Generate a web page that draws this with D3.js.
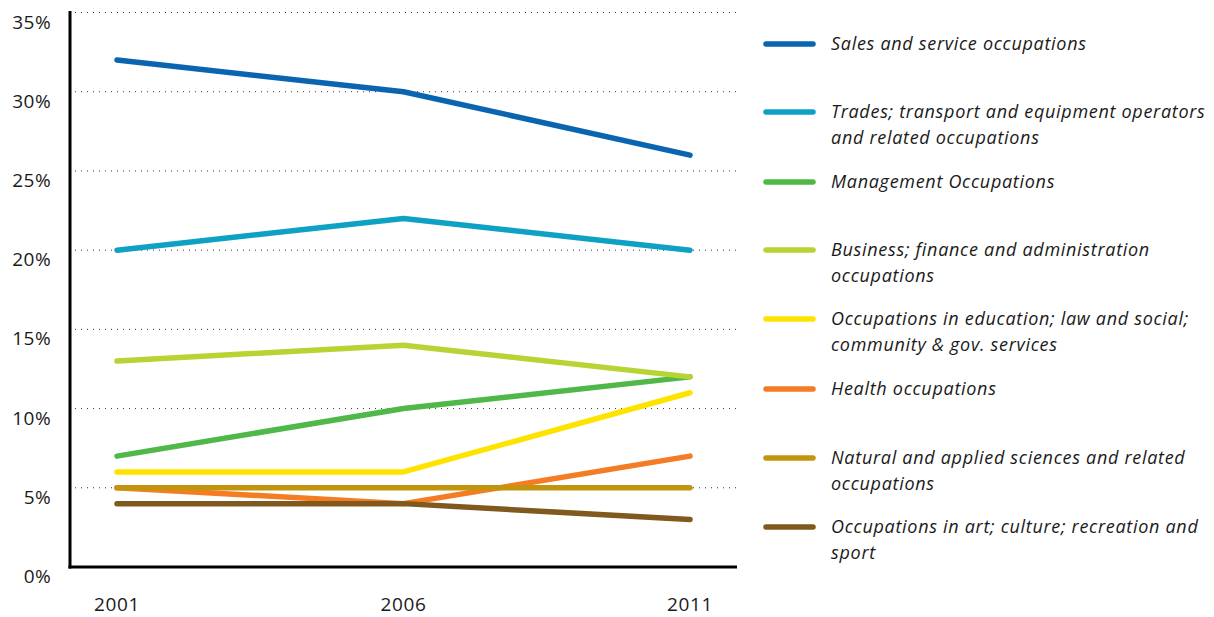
<!DOCTYPE html>
<html>
<head>
<meta charset="utf-8">
<script src="https://d3js.org/d3.v7.min.js"></script>
<style>
  body { margin: 0; background: #fff; }
  text { font-family: "Open Sans", sans-serif; fill: #1a1a1a; }
</style>
</head>
<body>
<div id="chart"></div>
<script>
// data
var years = ["2001", "2006", "2011"];
var yTicks = [0, 5, 10, 15, 20, 25, 30, 35];

var seriesNames = [
  ["Sales and service occupations"],
  ["Trades; transport and equipment operators", "and related occupations"],
  ["Management Occupations"],
  ["Business; finance and administration", "occupations"],
  ["Occupations in education; law and social;", "community & gov. services"],
  ["Health occupations"],
  ["Natural and applied sciences and related", "occupations"],
  ["Occupations in art; culture; recreation and", "sport"]
];
var seriesColors = ["#0a65b0", "#0fa1c4", "#4fb848", "#b8d434", "#ffe300", "#f47c24", "#c3950e", "#7f591d"];

var sales = [32, 30, 26];
var trades = [20, 22, 20];
var management = [7, 10, 12];
var business = [13, 14, 12];
var education = [6, 6, 11];
var health = [5, 4, 7];
var natural = [5, 5, 5];
var art = [4, 4, 3];
var seriesValues = [sales, trades, management, business, education, health, natural, art];

var width = 1214, height = 617;
var svg = d3.select("#chart").append("svg")
    .attr("width", width)
    .attr("height", height);

var x = d3.scalePoint()
    .domain(years)
    .range([117, 690]);

var y = d3.scaleLinear()
    .domain([0, 35])
    .range([567, 12.5]);

// dotted gridlines
svg.append("g")
  .selectAll("line")
  .data(yTicks.filter(function(d) { return d > 0; }))
  .enter().append("line")
    .attr("x1", 75).attr("x2", 737)
    .attr("y1", function(d) { return y(d); })
    .attr("y2", function(d) { return y(d); })
    .attr("stroke", "#333")
    .attr("stroke-width", 1)
    .attr("stroke-dasharray", "1,5");

// y tick labels
svg.append("g")
  .selectAll("text")
  .data(yTicks)
  .enter().append("text")
    .attr("x", 51)
    .attr("y", function(d) { return y(d) + 16; })
    .attr("text-anchor", "end")
    .style("font-size", "19px")
    .style("letter-spacing", "0.4px")
    .text(function(d) { return d + "%"; });

// x labels
svg.append("g")
  .selectAll("text")
  .data(years)
  .enter().append("text")
    .attr("x", function(d) { return x(d); })
    .attr("y", 611)
    .attr("text-anchor", "middle")
    .style("font-size", "19px")
    .style("letter-spacing", "0.6px")
    .text(function(d) { return d; });

// axes lines
svg.append("line")
    .attr("x1", 70).attr("x2", 70)
    .attr("y1", 11).attr("y2", 568.5)
    .attr("stroke", "#000").attr("stroke-width", 3);
svg.append("line")
    .attr("x1", 68.5).attr("x2", 737)
    .attr("y1", 567).attr("y2", 567)
    .attr("stroke", "#000").attr("stroke-width", 3);

var line = d3.line()
    .x(function(d, i) { return x(years[i]); })
    .y(function(d) { return y(d); });

svg.append("g")
  .selectAll("path")
  .data(seriesValues)
  .enter().append("path")
    .attr("d", line)
    .attr("fill", "none")
    .attr("stroke", function(d, i) { return seriesColors[i]; })
    .attr("stroke-width", 5.5)
    .attr("stroke-linecap", "round")
    .attr("stroke-linejoin", "round");

// legend
var legendY = [44, 112, 182, 250, 319, 389, 458, 527];
var item = svg.append("g")
  .selectAll("g")
  .data(seriesNames)
  .enter().append("g")
    .attr("transform", function(d, i) { return "translate(0," + legendY[i] + ")"; });

item.append("line")
    .attr("x1", 766).attr("x2", 813)
    .attr("y1", 0).attr("y2", 0)
    .attr("stroke", function(d, i) { return seriesColors[i]; })
    .attr("stroke-width", 5.5)
    .attr("stroke-linecap", "round");

item.append("text")
    .attr("x", 831)
    .attr("y", 6)
    .style("font-size", "18px")
    .style("font-style", "italic")
    .style("letter-spacing", "0.7px")
    .selectAll("tspan")
    .data(function(d) { return d; })
    .enter().append("tspan")
      .attr("x", 831)
      .attr("dy", function(d, i) { return i === 0 ? 0 : 26; })
      .text(function(d) { return d; });
</script>
</body>
</html>
